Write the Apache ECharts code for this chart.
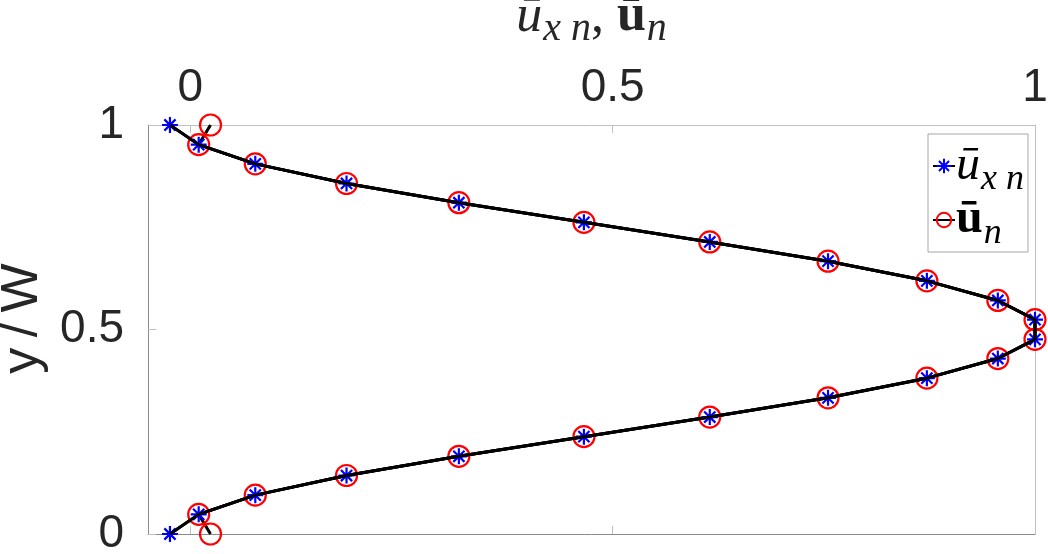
<!DOCTYPE html>
<html>
<head>
<meta charset="utf-8">
<script src="https://cdn.jsdelivr.net/npm/echarts@6/dist/echarts.min.js"></script>
<style>
  html, body { margin: 0; padding: 0; background: #fff; }
  #chart { width: 1048px; height: 554px; }
</style>
</head>
<body>
<div id="chart"></div>
<script>
// y/W positions of the samples (top to bottom)
var yW = [1, 0.952, 0.905, 0.857, 0.810, 0.762, 0.714, 0.667, 0.619, 0.571, 0.524,
          0.476, 0.429, 0.381, 0.333, 0.286, 0.238, 0.190, 0.143, 0.095, 0.048, 0];
// ū_xn (blue stars)
var uxn = [-0.024, 0.010, 0.077, 0.185, 0.318, 0.466, 0.615, 0.755, 0.872, 0.956, 1.0,
           1.0, 0.956, 0.872, 0.755, 0.615, 0.466, 0.318, 0.185, 0.077, 0.010, -0.024];
// ū_n (red circles)
var un = [0.024, 0.010, 0.077, 0.185, 0.318, 0.466, 0.615, 0.755, 0.872, 0.956, 1.0,
          1.0, 0.956, 0.872, 0.755, 0.615, 0.466, 0.318, 0.185, 0.077, 0.010, 0.024];
var xTicks = [0, 0.5, 1];
var seriesNames = ['ū_xn', 'ū_n'];

function pairs(xs, ys) {
    var out = [];
    for (var i = 0; i < xs.length; i++) {
        out.push([xs[i], ys[i]]);
    }
    return out;
}

var starPath = 'path://M0,-10L0,10M-10,0L10,0M-7,-7L7,7M-7,7L7,-7';
var labelFont = 'Liberation Sans';
var textCol = '#262626';

var chart = echarts.init(document.getElementById('chart'));

// math-like rich text: big letter, lowered subscript
function mathStyles(big, small, col) {
    var serif = 'Liberation Serif';
    return {
        u: { fontFamily: serif, fontStyle: 'italic', fontSize: big, color: col, lineHeight: 64 },
        ub: { fontFamily: serif, fontWeight: 'bold', fontSize: big, color: col, lineHeight: 64 },
        s: { fontFamily: serif, fontStyle: 'italic', fontSize: small, color: col, lineHeight: 24,
             verticalAlign: 'bottom', padding: [0, 0, 0, 1] },
        c: { fontFamily: serif, fontSize: big, color: col, lineHeight: 64 }
    };
}

var option = {
    animation: false,
    grid: { left: 148, right: 13, top: 125, bottom: 20, containLabel: false, outerBoundsMode: 'none' },
    legend: {
        data: seriesNames,
        orient: 'vertical',
        left: 928,
        top: 134,
        backgroundColor: '#fff',
        borderColor: '#a6a6a6',
        borderWidth: 1,
        borderRadius: 0,
        padding: [8, 4, 0, 4],
        itemGap: -2,
        itemWidth: 22,
        itemHeight: 18,
        formatter: function (name) {
            return name === 'ū_xn' ? '{u|ū}{s|x n}' : '{ub|ū}{s|n}';
        },
        textStyle: { padding: [0, 0, 0, -4], rich: mathStyles(48, 36, '#000') }
    },
    xAxis: [{
        type: 'value',
        position: 'top',
        min: -0.05,
        max: 1,
        name: '{u|ū}{s|x n}{c|, }{ub|ū}{s|n}',
        nameLocation: 'middle',
        nameGap: 76,
        nameTextStyle: { fontSize: 50, rich: mathStyles(52, 40, '#262626') },
        axisLine: { show: true, onZero: false, lineStyle: { color: '#c0c0c0', width: 1 } },
        axisTick: { show: true, inside: true, length: 8, customValues: xTicks, lineStyle: { color: '#c0c0c0' } },
        axisLabel: { customValues: xTicks, margin: 14, fontFamily: labelFont, fontSize: 46, color: textCol },
        splitLine: { show: false }
    }, {
        type: 'value',
        position: 'bottom',
        min: -0.05,
        max: 1,
        axisLine: { show: true, onZero: false, lineStyle: { color: '#8c8c8c', width: 1 } },
        axisTick: { show: true, inside: true, length: 8, customValues: xTicks, lineStyle: { color: '#c0c0c0' } },
        axisLabel: { show: false },
        splitLine: { show: false }
    }],
    yAxis: [{
        type: 'value',
        min: 0,
        max: 1,
        interval: 0.5,
        name: 'y\u2009/\u2009W',
        nameLocation: 'middle',
        nameGap: 92,
        nameTextStyle: { fontFamily: labelFont, fontSize: 52, color: textCol, padding: [0, 0, 0, 22] },
        axisLine: { show: true, onZero: false, lineStyle: { color: '#8c8c8c', width: 1 } },
        axisTick: { show: true, inside: true, length: 8, lineStyle: { color: '#c0c0c0' } },
        axisLabel: { margin: 24, fontFamily: labelFont, fontSize: 46, color: textCol },
        splitLine: { show: false }
    }, {
        type: 'value',
        position: 'right',
        min: 0,
        max: 1,
        interval: 0.5,
        axisLine: { show: true, onZero: false, lineStyle: { color: '#c0c0c0', width: 1 } },
        axisTick: { show: false },
        axisLabel: { show: false },
        splitLine: { show: false }
    }],
    series: [
        {
            name: 'ū_n',
            type: 'line',
            data: pairs(un, yW),
            symbol: 'circle',
            symbolSize: 21,
            z: 2,
            itemStyle: { color: 'rgba(255,255,255,0)', borderColor: '#ff0000', borderWidth: 2.2 },
            lineStyle: { color: '#000', width: 3 }
        },
        {
            name: 'ū_xn',
            type: 'line',
            data: pairs(uxn, yW),
            symbol: starPath,
            symbolSize: 16,
            z: 3,
            itemStyle: { color: '#0000ff', borderColor: '#0000ff', borderWidth: 2.2 },
            lineStyle: { color: '#000', width: 3 }
        },
        {
            name: 'overlay',
            type: 'line',
            data: pairs(uxn, yW),
            symbol: 'none',
            silent: true,
            z: 4,
            lineStyle: { color: '#000', width: 3 }
        }
    ]
};
chart.setOption(option);
</script>
</body>
</html>
